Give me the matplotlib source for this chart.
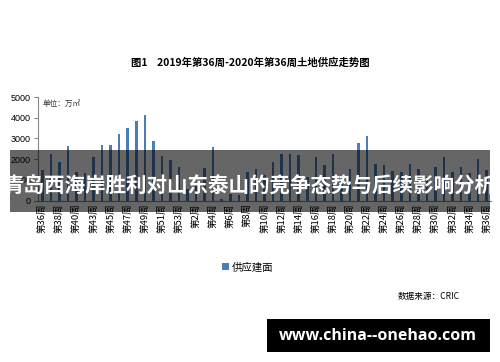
import numpy as np
import matplotlib
matplotlib.use('Agg')
import matplotlib.pyplot as plt
from matplotlib.patches import Rectangle

plt.rcParams['font.family'] = ['Noto Sans CJK SC', 'DejaVu Sans']

# semanas: 2019 (36-53, sem a 41) e 2020 (1-36)
semanas = [36, 37, 38, 39, 40, 42, 43, 44, 45, 46, 47, 48, 49, 50, 51, 52, 53] + list(range(1, 37))
rotulos = ['第%d周' % s for s in semanas]
valores = [1470, 2270, 1880, 2640, 1375, 1350, 2120, 2690, 2700, 3190,
           3490, 3830, 4120, 2890, 2170, 1960, 1630, 550, 750, 1570,
           2590, 80, 330, 250, 1380, 1520, 1250, 1870, 2270, 2270,
           2220, 1150, 2080, 1710, 2270, 1000, 1520, 2790, 3110, 1780,
           1740, 1450, 1370, 1750, 1500, 1160, 1620, 2100, 1380, 1620,
           1310, 2020, 1490]
yticks = [0, 1000, 2000, 3000, 4000, 5000]

fig = plt.figure(figsize=(5, 3.62), dpi=100)
ax = fig.add_axes([0.076, 0.446, 0.906, 0.286])

x = np.arange(len(valores))
ax.bar(x, valores, width=0.3, color='#4a7ebb', label='供应建面')
ax.set_xlim(-0.5, len(valores) - 0.5)
ax.set_ylim(0, 5000)
ax.set_yticks(yticks)
ax.set_yticklabels([str(v) for v in yticks], fontsize=6.5, family='Liberation Sans')
ax.set_xticks(x[::2])
ax.set_xticklabels(rotulos[::2], rotation=90, fontsize=6.8, va='top')
ax.tick_params(axis='x', length=0, pad=2)
ax.tick_params(axis='y', length=3, color='#888888', pad=2)
for s in ['top', 'right']:
    ax.spines[s].set_visible(False)
ax.spines['left'].set_color('#888888')
ax.spines['bottom'].set_color('#888888')

ax.text(0.01, 0.97, '单位：万㎡', transform=ax.transAxes, fontsize=5.5, va='top', ha='left', color='#333333')

fig.text(0.5, 0.826, '图1    2019年第36周-2020年第36周土地供应走势图', ha='center', va='center',
         fontsize=7.5, fontweight='bold')

leg = fig.legend(loc='center', bbox_to_anchor=(0.495, 0.262), frameon=False, fontsize=7.5,
                 handlelength=0.7, handleheight=0.7, handletextpad=0.3)

fig.text(0.92, 0.18, '数据来源：CRIC', ha='right', va='center', fontsize=6.2)

# faixa escura com o titulo
fig.add_artist(Rectangle((0.02, 1 - 212 / 362), 0.96, 62 / 362, transform=fig.transFigure,
                         facecolor='black', alpha=0.6, edgecolor='none', zorder=10))
fig.text(0.5, 1 - 186 / 362, '青岛西海岸胜利对山东泰山的竞争态势与后续影响分析', ha='center', va='center',
         fontsize=14.8, fontweight='bold', color='white', zorder=11)

# caixa preta do site
fig.add_artist(Rectangle((267 / 500, 1 - 352 / 362), 223 / 500, 33 / 362, transform=fig.transFigure,
                         facecolor='black', edgecolor='none', zorder=10))
fig.text(378 / 500, 1 - 336 / 362, 'www.china--onehao.com', ha='center', va='center',
         fontsize=11.5, fontweight='bold', color='white', zorder=11, family='Open Sans')

fig.savefig('out.png', dpi=100)
